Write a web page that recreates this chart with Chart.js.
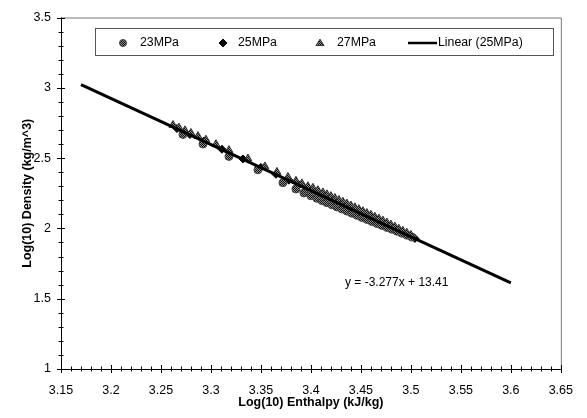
<!DOCTYPE html>
<html>
<head>
<meta charset="utf-8">
<script src="https://cdn.jsdelivr.net/npm/chart.js@4/dist/chart.umd.min.js"></script>
<style>
  html, body { margin: 0; padding: 0; background: #fff; }
  canvas { display: block; }
</style>
</head>
<body>
<canvas id="chart" width="587" height="418"></canvas>
<script>
// --- data ---
const seriesNames = ['23MPa', '25MPa', '27MPa', 'Linear (25MPa)'];

const enthalpy23 = [3.272, 3.292, 3.318, 3.347, 3.372, 3.385, 3.393, 3.400, 3.406, 3.411,
    3.416, 3.421, 3.426, 3.431, 3.436, 3.441, 3.446, 3.451, 3.456, 3.461,
    3.466, 3.471, 3.476, 3.481, 3.486, 3.491, 3.496, 3.501];
const density23 = [2.668, 2.600, 2.512, 2.417, 2.325, 2.280, 2.252, 2.232, 2.214, 2.198,
    2.183, 2.168, 2.153, 2.138, 2.123, 2.108, 2.093, 2.078, 2.064, 2.049,
    2.035, 2.021, 2.007, 1.994, 1.980, 1.966, 1.952, 1.938];

const enthalpy25 = [3.266, 3.279, 3.293, 3.311, 3.332, 3.350, 3.365, 3.378, 3.388, 3.396,
    3.403, 3.409, 3.414, 3.419, 3.424, 3.429, 3.434, 3.439, 3.444, 3.449,
    3.454, 3.459, 3.464, 3.469, 3.474, 3.479, 3.484, 3.489, 3.494, 3.499, 3.504];
const density25 = [2.710, 2.668, 2.622, 2.563, 2.494, 2.434, 2.385, 2.343, 2.310, 2.283,
    2.260, 2.240, 2.224, 2.207, 2.191, 2.175, 2.158, 2.142, 2.125, 2.109,
    2.093, 2.076, 2.060, 2.043, 2.027, 2.011, 1.994, 1.978, 1.962, 1.945, 1.929];

const enthalpy27 = [3.262, 3.268, 3.274, 3.280, 3.287, 3.295, 3.305, 3.318, 3.337, 3.354,
    3.366, 3.377, 3.385, 3.391, 3.397, 3.402, 3.407, 3.412, 3.416, 3.420,
    3.424, 3.428, 3.432, 3.436, 3.440, 3.444, 3.448, 3.452, 3.456, 3.460,
    3.464, 3.468, 3.472, 3.476, 3.480, 3.484, 3.488, 3.492, 3.496, 3.500];
const density27 = [2.735, 2.716, 2.697, 2.678, 2.656, 2.630, 2.598, 2.556, 2.496, 2.440,
    2.401, 2.365, 2.338, 2.319, 2.299, 2.288, 2.271, 2.255, 2.242, 2.229,
    2.216, 2.202, 2.189, 2.176, 2.162, 2.149, 2.136, 2.122, 2.109, 2.096,
    2.082, 2.069, 2.055, 2.041, 2.027, 2.012, 1.997, 1.982, 1.968, 1.953];

// trend line end points (y = -3.277x + 13.41)
const trendX = [3.17, 3.60];
const trendY = [3.022, 1.613];
const trendLabel = 'y = -3.277x + 13.41';

// axis ranges
const xRange = [3.15, 3.65];
const yRange = [1, 3.5];
const xMajor = 0.05, xMinor = 0.01;
const yMajor = 0.5, yMinor = 0.1;

// --- helpers ---
const FONT = 'Arial, "Liberation Sans", sans-serif';

function toPoints(xs, ys) {
    return xs.map((x, i) => ({ x: x, y: ys[i] }));
}

// grey "screened" fill like the scanned markers
function makeHatch() {
    const c = document.createElement('canvas');
    c.width = 2; c.height = 2;
    const g = c.getContext('2d');
    g.fillStyle = '#8c8c8c';
    g.fillRect(0, 0, 2, 2);
    g.fillStyle = '#111';
    g.fillRect(0, 0, 1, 1);
    g.fillRect(1, 1, 1, 1);
    return g.createPattern(c, 'repeat');
}
const hatch = makeHatch();

function drawMarker(ctx, style, x, y, r) {
    ctx.save();
    ctx.lineWidth = 1;
    ctx.beginPath();
    if (style === 'circle') {
        ctx.arc(x, y, r, 0, Math.PI * 2);
        ctx.fillStyle = hatch;
        ctx.strokeStyle = '#444';
    } else if (style === 'rectRot') {
        ctx.moveTo(x, y - r); ctx.lineTo(x + r, y); ctx.lineTo(x, y + r); ctx.lineTo(x - r, y);
        ctx.closePath();
        ctx.fillStyle = '#000';
        ctx.strokeStyle = '#000';
    } else {
        const h = r * 1.6;
        ctx.moveTo(x, y - h * 0.6); ctx.lineTo(x + r, y + h * 0.4); ctx.lineTo(x - r, y + h * 0.4);
        ctx.closePath();
        ctx.fillStyle = hatch;
        ctx.strokeStyle = '#333';
    }
    ctx.fill();
    ctx.stroke();
    ctx.restore();
}

// frame, crossing tick marks, legend box and the equation text
const decorations = {
    id: 'decorations',
    beforeDatasetsDraw(chart) {
        const { ctx, chartArea: a } = chart;
        ctx.save();
        ctx.strokeStyle = '#777';
        ctx.lineWidth = 1;
        ctx.beginPath();
        ctx.moveTo(a.left, a.top + 0.5); ctx.lineTo(a.right + 0.5, a.top + 0.5);
        ctx.lineTo(a.right + 0.5, a.bottom);
        ctx.stroke();
        ctx.restore();
    },
    afterDatasetsDraw(chart) {
        const { ctx, chartArea: a, scales: { x, y } } = chart;
        ctx.save();
        ctx.strokeStyle = '#000';
        ctx.lineWidth = 1;
        ctx.beginPath();
        // axis lines
        ctx.moveTo(a.left + 0.5, a.top); ctx.lineTo(a.left + 0.5, a.bottom + 0.5);
        ctx.lineTo(a.right, a.bottom + 0.5);
        // x ticks
        const nx = Math.round((xRange[1] - xRange[0]) / xMinor);
        for (let i = 0; i <= nx; i++) {
            const px = Math.round(x.getPixelForValue(xRange[0] + i * xMinor)) + 0.5;
            const len = (i % Math.round(xMajor / xMinor) === 0) ? 4 : 2.5;
            ctx.moveTo(px, a.bottom - len); ctx.lineTo(px, a.bottom + len);
        }
        // y ticks
        const ny = Math.round((yRange[1] - yRange[0]) / yMinor);
        for (let i = 0; i <= ny; i++) {
            const py = Math.round(y.getPixelForValue(yRange[0] + i * yMinor)) + 0.5;
            const len = (i % Math.round(yMajor / yMinor) === 0) ? 4 : 2.5;
            ctx.moveTo(a.left - len, py); ctx.lineTo(a.left + len, py);
        }
        ctx.stroke();

        // equation label
        ctx.fillStyle = '#000';
        ctx.font = '12px ' + FONT;
        ctx.textAlign = 'left';
        ctx.textBaseline = 'middle';
        ctx.fillText(trendLabel, 345, 283);

        // legend box
        ctx.fillStyle = '#fff';
        ctx.fillRect(95.5, 28.5, 458, 27);
        ctx.strokeStyle = '#555';
        ctx.strokeRect(95.5, 28.5, 458, 27);
        const ly = 43;
        ctx.font = '12.3px ' + FONT;
        ctx.fillStyle = '#000';
        drawMarker(ctx, 'circle', 123, ly, 3.5);
        ctx.fillText(seriesNames[0], 140, ly);
        drawMarker(ctx, 'rectRot', 223, ly, 4);
        ctx.fillText(seriesNames[1], 238, ly);
        drawMarker(ctx, 'triangle', 320, ly, 4);
        ctx.fillText(seriesNames[2], 337, ly);
        ctx.strokeStyle = '#000';
        ctx.lineWidth = 2.5;
        ctx.beginPath();
        ctx.moveTo(408, ly); ctx.lineTo(437, ly);
        ctx.stroke();
        ctx.fillText(seriesNames[3], 438, ly);
        ctx.restore();
    }
};

const ctx = document.getElementById('chart').getContext('2d');

new Chart(ctx, {
    type: 'scatter',
    data: {
        datasets: [
            {
                label: seriesNames[0],
                data: toPoints(enthalpy23, density23),
                pointStyle: 'circle',
                pointRadius: 4,
                backgroundColor: hatch,
                borderColor: '#444',
                borderWidth: 1,
                order: 2
            },
            {
                label: seriesNames[1],
                data: toPoints(enthalpy25, density25),
                pointStyle: 'rectRot',
                pointRadius: 4,
                backgroundColor: '#000',
                borderColor: '#000',
                borderWidth: 1,
                order: 3
            },
            {
                label: seriesNames[2],
                data: toPoints(enthalpy27, density27),
                pointStyle: 'triangle',
                pointRadius: 4.6,
                backgroundColor: hatch,
                borderColor: '#333',
                borderWidth: 1,
                order: 1
            },
            {
                type: 'line',
                label: seriesNames[3],
                data: toPoints(trendX, trendY),
                borderColor: '#000',
                borderWidth: 3,
                pointRadius: 0,
                fill: false,
                order: 0
            }
        ]
    },
    options: {
        responsive: false,
        animation: false,
        layout: { padding: { left: 0, right: 25, top: 15, bottom: 0 } },
        plugins: {
            legend: { display: false },
            tooltip: { enabled: false }
        },
        scales: {
            x: {
                type: 'linear',
                min: xRange[0],
                max: xRange[1],
                grid: { display: false, drawTicks: false },
                border: { display: false },
                afterFit: (scale) => { scale.height = 49; },
                ticks: {
                    stepSize: xMajor,
                    padding: 14,
                    color: '#000',
                    font: { family: FONT, size: 12.5 },
                    callback: (v) => parseFloat(v.toFixed(2)).toString()
                },
                title: {
                    display: true,
                    text: 'Log(10) Enthalpy (kJ/kg)',
                    color: '#000',
                    font: { family: FONT, size: 12.5, weight: 'bold' },
                    padding: { top: 0, bottom: 8 }
                }
            },
            y: {
                type: 'linear',
                min: yRange[0],
                max: yRange[1],
                grid: { display: false, drawTicks: false },
                border: { display: false },
                afterFit: (scale) => { scale.width = 61; },
                ticks: {
                    stepSize: yMajor,
                    padding: 10,
                    color: '#000',
                    font: { family: FONT, size: 12.5 },
                    callback: (v) => parseFloat(v.toFixed(2)).toString()
                },
                title: {
                    display: true,
                    text: 'Log(10) Density (kg/m^3)',
                    color: '#000',
                    font: { family: FONT, size: 12.5, weight: 'bold' },
                    padding: { top: 20, bottom: 0 }
                }
            }
        }
    },
    plugins: [decorations]
});
</script>
</body>
</html>
